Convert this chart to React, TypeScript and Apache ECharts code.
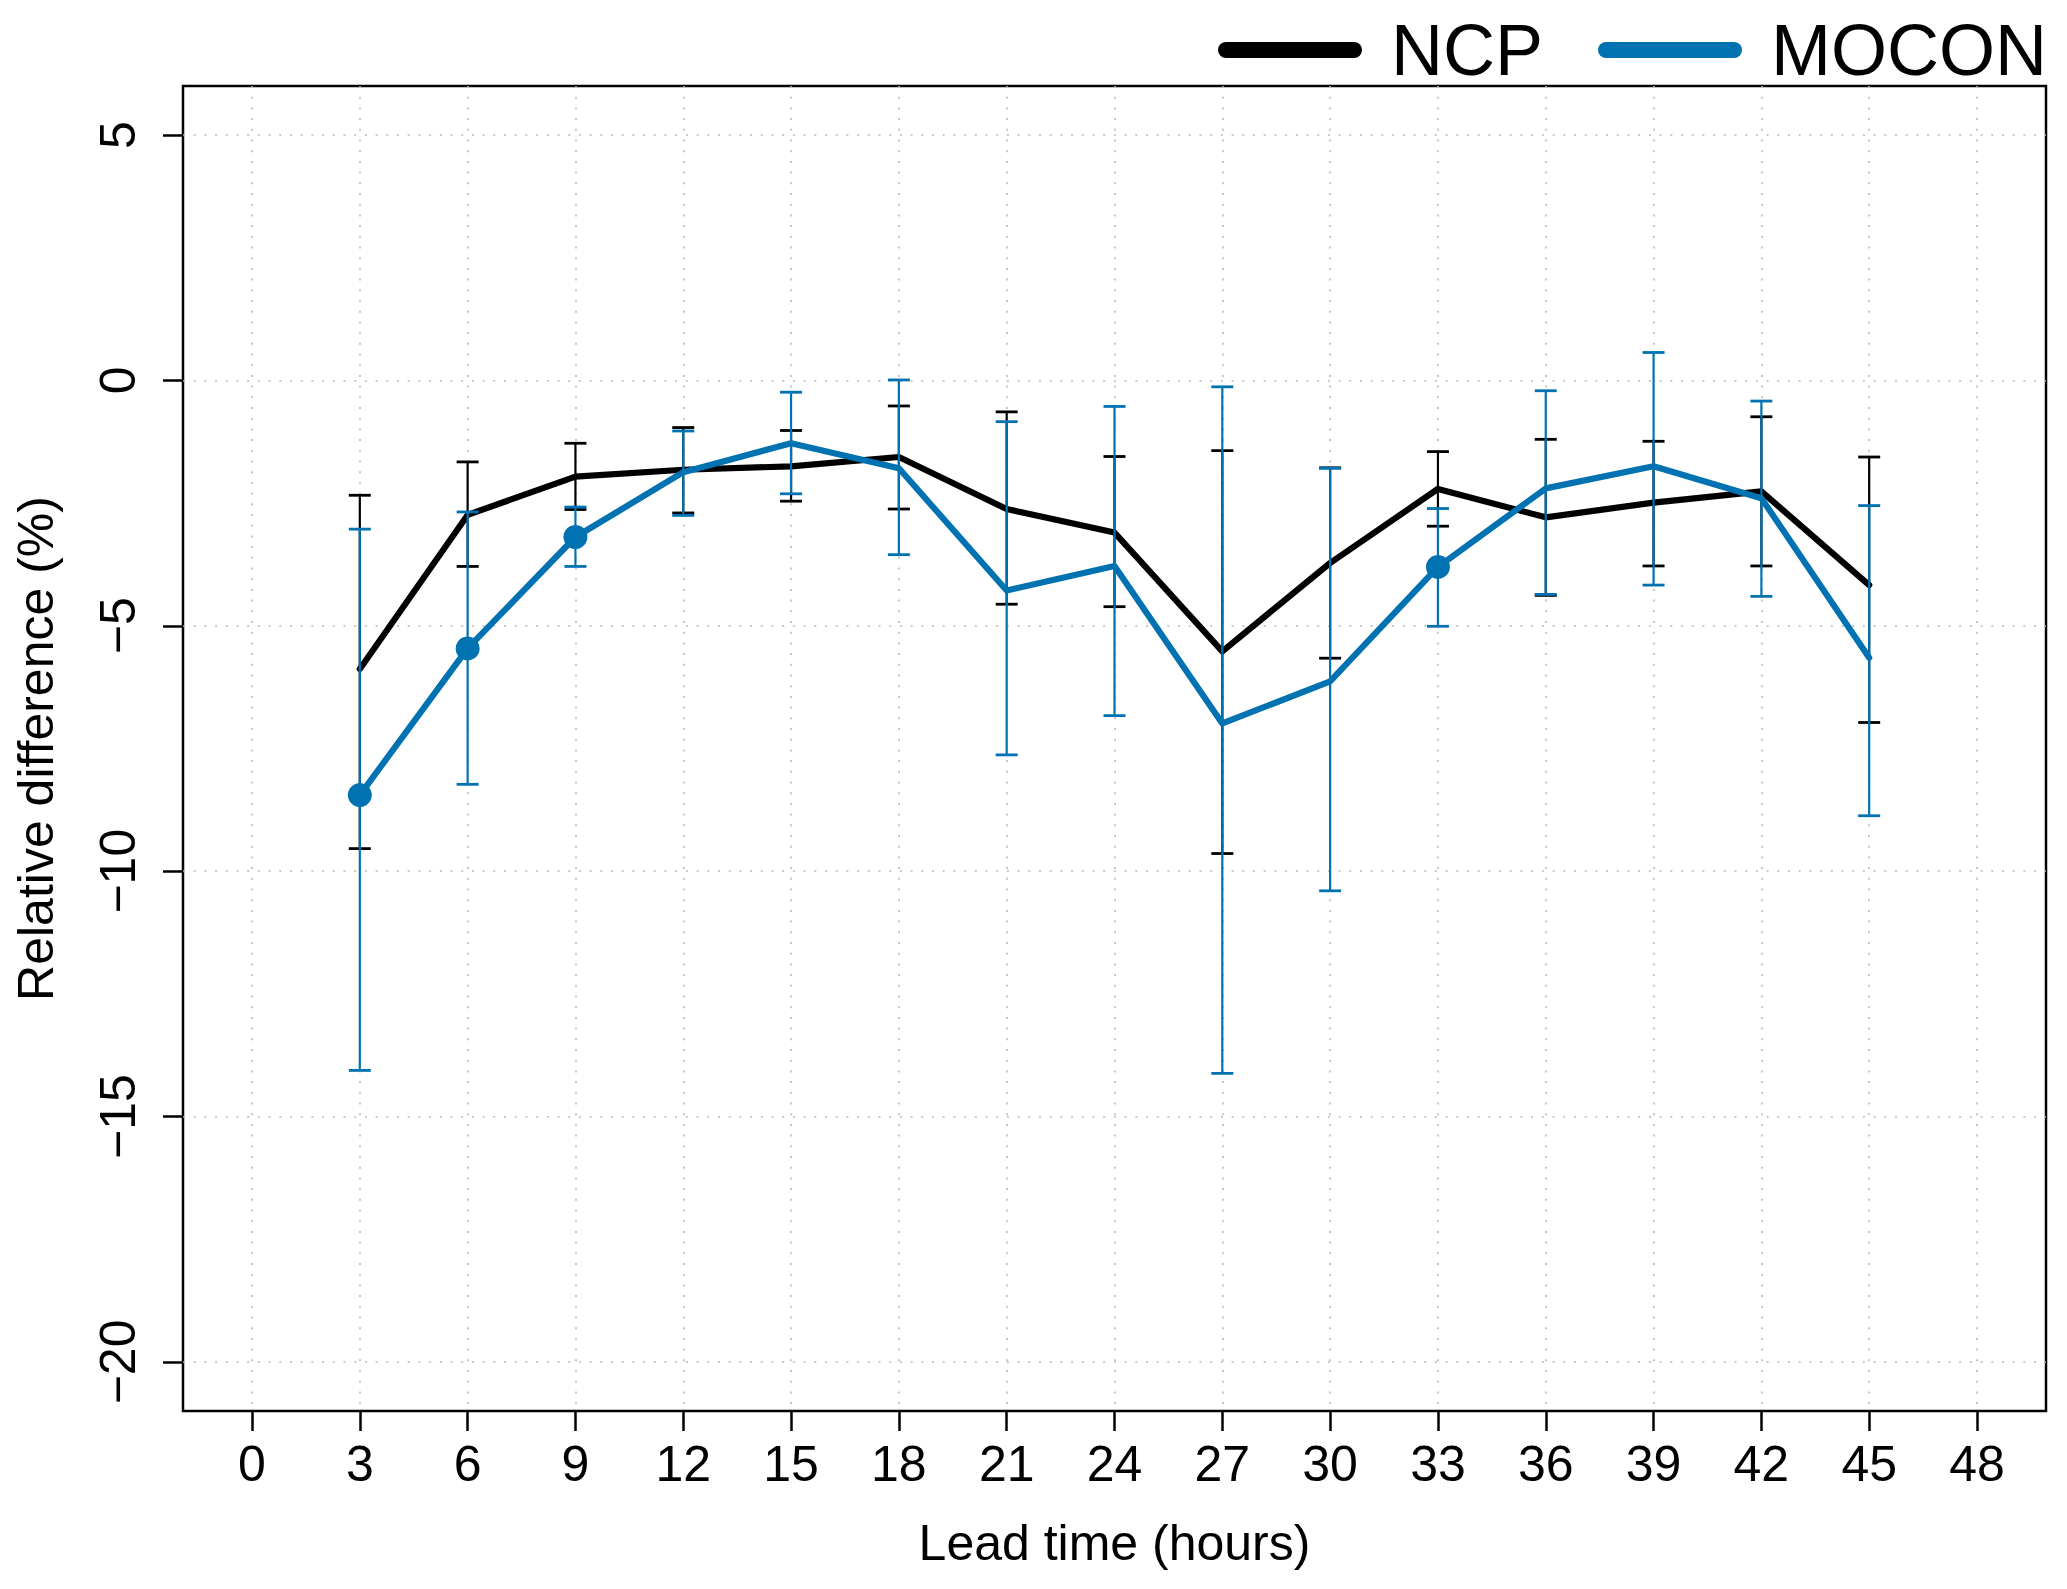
import React, { useEffect, useRef } from "react";
import * as echarts from "echarts";

const leadTimes = [3, 6, 9, 12, 15, 18, 21, 24, 27, 30, 33, 36, 39, 42, 45];

const ncpMean = [-5.88, -2.74, -1.96, -1.82, -1.75, -1.56, -2.62, -3.10, -5.52, -3.72, -2.21, -2.79, -2.49, -2.26, -4.17];
const ncpLow = [-9.54, -3.79, -2.63, -2.70, -2.46, -2.62, -4.56, -4.61, -9.64, -5.66, -2.97, -4.38, -3.78, -3.78, -6.97];
const ncpHigh = [-2.34, -1.66, -1.28, -0.96, -1.02, -0.52, -0.64, -1.55, -1.43, -1.78, -1.45, -1.20, -1.24, -0.74, -1.56];

const moconMean = [-8.45, -5.46, -3.19, -1.87, -1.28, -1.79, -4.28, -3.78, -6.99, -6.13, -3.80, -2.20, -1.75, -2.40, -5.65];
const moconLow = [-14.06, -8.23, -3.79, -2.75, -2.31, -3.55, -7.63, -6.83, -14.12, -10.40, -5.01, -4.36, -4.17, -4.40, -8.87];
const moconHigh = [-3.03, -2.68, -2.58, -1.03, -0.24, 0.01, -0.84, -0.53, -0.13, -1.79, -2.61, -0.21, 0.57, -0.42, -2.55];

// lead times where MOCON is marked with a filled dot
const moconSignificant = [3, 6, 9, 33];

const xTicks = [0, 3, 6, 9, 12, 15, 18, 21, 24, 27, 30, 33, 36, 39, 42, 45, 48];
const yTicks = [-20, -15, -10, -5, 0, 5];

const BLACK = "#000000";
const BLUE = "#0072B2";
const FONT = "'Liberation Sans', Arial, Helvetica, sans-serif";

function errorBarSeries(name: string, color: string, low: number[], high: number[], z: number) {
  return {
    name,
    type: "custom",
    z,
    silent: true,
    encode: { x: 0, y: [1, 2] },
    data: leadTimes.map((t, i) => [t, low[i], high[i]]),
    renderItem: (params: any, api: any) => {
      const x = api.value(0);
      const pLo = api.coord([x, api.value(1)]);
      const pHi = api.coord([x, api.value(2)]);
      const half = 11;
      const style = { stroke: color, lineWidth: 2.2, fill: null };
      return {
        type: "group",
        children: [
          { type: "line", shape: { x1: pLo[0], y1: pLo[1], x2: pHi[0], y2: pHi[1] }, style },
          { type: "line", shape: { x1: pLo[0] - half, y1: pLo[1], x2: pLo[0] + half, y2: pLo[1] }, style: { ...style, lineWidth: 2.8 } },
          { type: "line", shape: { x1: pHi[0] - half, y1: pHi[1], x2: pHi[0] + half, y2: pHi[1] }, style: { ...style, lineWidth: 2.8 } },
        ],
      };
    },
  };
}

const minusFmt = (v: number) => (v < 0 ? "\u2212" + Math.abs(v) : String(v));

export default function App() {
  const ref = useRef<HTMLDivElement>(null);

  useEffect(() => {
    if (!ref.current) return;
    const chart = echarts.init(ref.current, null, { renderer: "svg" });
    const gridLine = { show: true, lineStyle: { color: "#b8b8b8", width: 1.6, type: [2, 8.7] } };

    chart.setOption({
      animation: false,
      backgroundColor: "#ffffff",
      textStyle: { fontFamily: FONT, color: "#000" },
      legend: {
        right: 15,
        top: 9,
        itemWidth: 144,
        itemHeight: 16,
        itemGap: 55,
        icon: "path://M8,0 L136,0 A8,8 0 0 1 136,16 L8,16 A8,8 0 0 1 8,0 Z",
        textStyle: { fontSize: 72, color: "#000", fontFamily: FONT, padding: [0, 0, 0, 24] },
        data: [
          { name: "NCP", itemStyle: { color: BLACK } },
          { name: "MOCON", itemStyle: { color: BLUE } },
        ],
      },
      grid: {
        left: 183,
        top: 86,
        width: 1863,
        height: 1325,
        show: true,
        borderColor: "#000",
        borderWidth: 2.5,
        backgroundColor: "transparent",
        containLabel: false,
      },
      xAxis: {
        type: "value",
        min: -1.92,
        max: 49.92,
        name: "Lead time (hours)",
        nameLocation: "middle",
        nameGap: 107,
        nameTextStyle: { fontSize: 50, color: "#000", fontFamily: FONT },
        axisLine: { show: false, onZero: false },
        axisTick: { show: true, inside: false, length: 20, customValues: xTicks, lineStyle: { color: "#000", width: 2.5 } },
        axisLabel: { show: true, customValues: xTicks, margin: 28, fontSize: 50, color: "#000", fontFamily: FONT },
        splitLine: gridLine,
      },
      yAxis: {
        type: "value",
        min: -21,
        max: 6,
        name: "Relative difference (%)",
        nameLocation: "middle",
        nameGap: 122,
        nameTextStyle: { fontSize: 50, color: "#000", fontFamily: FONT },
        axisLine: { show: false, onZero: false },
        axisTick: { show: true, inside: false, length: 20, customValues: yTicks, lineStyle: { color: "#000", width: 2.5 } },
        axisLabel: {
          show: true,
          customValues: yTicks,
          rotate: 90,
          margin: 40,
          fontSize: 50,
          color: "#000",
          fontFamily: FONT,
          formatter: minusFmt,
        },
        splitLine: gridLine,
      },
      series: [
        errorBarSeries("NCP range", BLACK, ncpLow, ncpHigh, 2),
        {
          name: "NCP",
          type: "line",
          z: 3,
          data: leadTimes.map((t, i) => [t, ncpMean[i]]),
          showSymbol: false,
          symbol: "none",
          itemStyle: { color: BLACK },
          lineStyle: { color: BLACK, width: 6.2, cap: "round", join: "round" },
        },
        errorBarSeries("MOCON range", BLUE, moconLow, moconHigh, 4),
        {
          name: "MOCON",
          type: "line",
          z: 5,
          data: leadTimes.map((t, i) => ({
            value: [t, moconMean[i]],
            symbol: moconSignificant.includes(t) ? "circle" : "none",
            symbolSize: 24,
          })),
          showSymbol: true,
          showAllSymbol: true,
          itemStyle: { color: BLUE, borderWidth: 0 },
          lineStyle: { color: BLUE, width: 6.2, cap: "round", join: "round" },
        },
      ],
    });

    return () => chart.dispose();
  }, []);

  return (
    <div
      ref={ref}
      style={{ position: "absolute", left: 0, top: 0, width: 2067, height: 1589, background: "#fff" }}
    />
  );
}
